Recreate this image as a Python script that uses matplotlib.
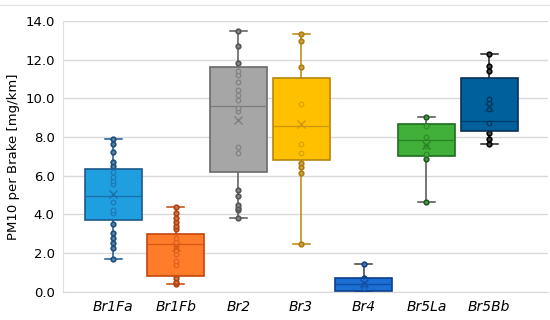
from matplotlib import pyplot as plt
from matplotlib.lines import Line2D
from matplotlib.colors import to_rgb

# data
labels = ['Br1Fa', 'Br1Fb', 'Br2', 'Br3', 'Br4', 'Br5La', 'Br5Bb']

pts_br1fa = [1.69, 2.24, 2.50, 2.76, 3.02, 3.50, 4.05, 4.22, 4.65, 5.56, 5.73,
             5.94, 6.20, 6.51, 6.71, 7.23, 7.63, 7.92]
pts_br1fb = [0.38, 0.49, 0.69, 1.38, 1.59, 1.98, 2.15, 2.32, 2.58, 2.76, 3.27,
             3.41, 3.62, 3.82, 4.05, 4.36]
pts_br2 = [3.82, 4.22, 4.31, 4.46, 4.94, 5.25, 7.15, 7.49, 9.35, 9.52, 9.90,
           10.16, 10.42, 10.85, 11.19, 11.42, 11.83, 12.69, 13.48]
pts_br3 = [2.45, 6.12, 6.46, 6.66, 7.15, 7.63, 9.68, 11.62, 12.95, 13.31]
pts_br4 = [0.0, 0.18, 0.43, 0.72, 1.43]
pts_br5la = [4.62, 6.85, 7.11, 7.54, 8.01, 8.56, 9.01]
pts_br5bb = [7.66, 7.87, 8.18, 8.70, 9.47, 9.73, 9.94, 11.40, 11.69, 12.31]
points = [pts_br1fa, pts_br1fb, pts_br2, pts_br3, pts_br4, pts_br5la, pts_br5bb]

q1 = [3.70, 0.83, 6.20, 6.80, 0.03, 7.03, 8.32]
med = [4.96, 2.46, 9.61, 8.56, 0.43, 7.84, 8.82]
q3 = [6.37, 2.98, 11.59, 11.02, 0.69, 8.66, 11.02]
wlo = [1.69, 0.38, 3.82, 2.45, 0.0, 4.62, 7.66]
whi = [7.92, 4.36, 13.48, 13.31, 1.43, 9.01, 12.31]
mean = [5.05, 2.30, 8.90, 8.66, 0.45, 7.60, 9.55]

fills = ['#1f9ee0', '#ff7c2a', '#a6a6a6', '#ffc000', '#1a6ed4', '#40b038', '#00609c']
edges = ['#1b5a8e', '#c4460e', '#6a6a6a', '#b8860b', '#0d3f8a', '#1f6b1f', '#0b2f55']
whisk = ['#1b5a8e', '#c4460e', '#595959', '#b8860b', '#404040', '#505050', '#202020']
dots = ['#1b4f80', '#b5400e', '#555555', '#b07d0a', '#0d3f8a', '#1a5e1a', '#000000']


def mix(c1, c2, t):
    a, b = to_rgb(c1), to_rgb(c2)
    return tuple(a[j] * (1 - t) + b[j] * t for j in range(3))


fig = plt.figure(figsize=(5.5, 3.2), dpi=100)
fig.add_artist(Line2D([0, 1], [0.983, 0.983], color='#e3e3e3', lw=1))
ax = fig.add_axes([0.1145, 0.088, 0.882, 0.847])

stats = []
for i in range(len(labels)):
    stats.append({'q1': q1[i], 'med': med[i], 'q3': q3[i], 'whislo': wlo[i],
                  'whishi': whi[i], 'mean': mean[i], 'fliers': [], 'label': labels[i]})

pos = list(range(len(labels)))
bp = ax.bxp(stats, positions=pos, widths=0.91, capwidths=0.27, patch_artist=True,
            showmeans=False, showfliers=False, zorder=3)

for i in range(len(labels)):
    bp['boxes'][i].set(facecolor=fills[i], edgecolor=edges[i], linewidth=1.2)
    bp['medians'][i].set(color=mix(edges[i], fills[i], 0.3), linewidth=0.9)
    for k in (2 * i, 2 * i + 1):
        bp['whiskers'][k].set(color=whisk[i], linewidth=1.1, zorder=2)
        bp['caps'][k].set(color=whisk[i], linewidth=1.1, zorder=2)
    inside = [p for p in points[i] if q1[i] < p < q3[i]]
    outside = [p for p in points[i] if not (q1[i] < p < q3[i])]
    ax.plot([pos[i]] * len(outside), outside, 'o', ms=3.3, mew=1.2,
            mfc=mix(dots[i], 'white', 0.3), mec=dots[i], zorder=2.5)
    ax.plot([pos[i]] * len(inside), inside, 'o', ms=3.3, mew=0.9,
            mfc=fills[i], mec=mix(dots[i], fills[i], 0.55), zorder=3.5)
    ax.plot(pos[i], mean[i], 'x', ms=6, mew=1, color=mix(edges[i], fills[i], 0.35), zorder=4)

ax.set_xlim(-0.8, 6.94)
ax.set_ylim(0, 14)
ax.set_yticks([0, 2, 4, 6, 8, 10, 12, 14])
ax.set_yticklabels(['%.1f' % v for v in ax.get_yticks()], fontsize=9.5)
ax.set_xticks(pos)
ax.set_xticklabels(labels, fontsize=10, style='italic')
ax.tick_params(length=0, pad=6)
ax.set_ylabel('PM10 per Brake [mg/km]', fontsize=9.5)

ax.grid(axis='y', color='#d9d9d9', linewidth=1)
ax.set_axisbelow(True)
for s in ['top', 'right']:
    ax.spines[s].set_visible(False)
ax.spines['left'].set_color('#e0e0e0')
ax.spines['bottom'].set_color('#d9d9d9')

fig.savefig('out.png', dpi=100)
